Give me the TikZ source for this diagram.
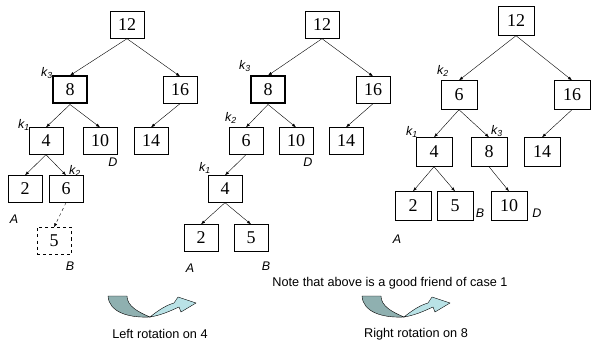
\documentclass[tikz,border=0pt]{standalone}
\usepackage{fontspec}
\setmainfont{Liberation Serif}
\setsansfont{Liberation Sans}
\usetikzlibrary{arrows.meta}
\definecolor{arrdark}{HTML}{8FB0B0}
\definecolor{arrlight}{HTML}{B9E2E6}
\tikzset{
  bx/.style={draw, minimum width=34pt, minimum height=27pt, inner sep=0pt, font=\fontsize{18}{18}\selectfont},
  bxl/.style={bx, minimum width=36pt, minimum height=29pt},
  thickbx/.style={bx, line width=2pt},
  lbl/.style={font=\sffamily\itshape\fontsize{12.5}{12.5}\selectfont, inner sep=0pt},
  txt/.style={font=\sffamily\fontsize{12.7}{13}\selectfont, inner sep=0pt},
  edge/.style={draw, line width=0.4pt, -{Latex[length=4pt,width=3pt]}},
}
\newcommand{\kk}[1]{k\textsubscript{#1}}
\newcommand{\curvarrow}[1]{%
  \begin{scope}[shift={(#1,0)}]
    \fill[arrdark, draw=black, line width=0.4pt] (108,296) .. controls (109,312) and (128,318) .. (150,317)
      .. controls (138,312) and (127,306) .. (127,296) -- cycle;
    \fill[arrlight, draw=black, line width=0.4pt] (150,317) .. controls (160,309) and (167,305) .. (174,303)
      -- (178,297) -- (196,303) -- (181,312) -- (179,307)
      .. controls (170,311) and (162,315) .. (150,317) -- cycle;
  \end{scope}}
\begin{document}
\begin{tikzpicture}[x=1pt,y=-1pt]
\useasboundingbox (0,0) rectangle (613,358);
% Tree 1
\node[bx] (a12) at (127,25) {12};
\node[thickbx] (a8) at (70,90) {8};
\node[bx] (a16) at (180,90) {16};
\node[bx] (a4) at (46,141) {4};
\node[bx] (a10) at (100,141) {10};
\node[bx] (a14) at (151,141) {14};
\node[bx] (a2) at (25,189) {2};
\node[bx] (a6) at (66,189) {6};
\node[bx, dashed] (a5) at (54,241) {5};
\foreach \p/\c in {a12/a8,a12/a16,a8/a4,a8/a10,a16/a14,a4/a2,a4/a6}
  \path[edge] (\p.south) -- (\c.north);
\path[edge, dashed] (a6.south) -- (a5.north);
\node[lbl] (ak3) at (47,73) {\kk{3}};
\node[lbl] (ak1) at (24,125) {\kk{1}};
\node[lbl] (ak2) at (75,171) {\kk{2}};
\node[lbl] (aD) at (113,162) {D};
\node[lbl] (aA) at (14,219) {A};
\node[lbl] (aB) at (70,266) {B};
% Tree 2
\node[bx] (b12) at (322,25) {12};
\node[thickbx] (b8) at (268,90) {8};
\node[bx] (b16) at (373,90) {16};
\node[bx] (b6) at (246,141) {6};
\node[bx] (b10) at (296,141) {10};
\node[bx] (b14) at (346,141) {14};
\node[bx] (b4) at (225,189) {4};
\node[bx] (b2) at (201,238) {2};
\node[bx] (b5) at (251,238) {5};
\foreach \p/\c in {b12/b8,b12/b16,b8/b6,b8/b10,b16/b14,b6/b4,b4/b2,b4/b5}
  \path[edge] (\p.south) -- (\c.north);
\node[lbl] (bk3) at (245,66) {\kk{3}};
\node[lbl] (bk2) at (231,118) {\kk{2}};
\node[lbl] (bk1) at (205,168) {\kk{1}};
\node[lbl] (bD) at (308,162) {D};
\node[lbl] (bA) at (190,268) {A};
\node[lbl] (bB) at (266,266) {B};
% Tree 3
\node[bxl] (c12) at (516,21) {12};
\node[bxl] (c6) at (459,95) {6};
\node[bxl] (c16) at (572,95) {16};
\node[bxl] (c4) at (434,152) {4};
\node[bxl] (c8) at (489,152) {8};
\node[bxl] (c14) at (542,152) {14};
\node[bxl] (c2) at (413,206) {2};
\node[bxl] (c5) at (455,206) {5};
\node[bxl] (c10) at (509,206) {10};
\foreach \p/\c in {c12/c6,c12/c16,c6/c4,c6/c8,c16/c14,c4/c2,c4/c5,c8/c10}
  \path[edge] (\p.south) -- (\c.north);
\node[lbl] (ck2) at (443,71) {\kk{2}};
\node[lbl] (ck1) at (412,132) {\kk{1}};
\node[lbl] (ck3) at (497,131) {\kk{3}};
\node[lbl] (cB) at (480,213) {B};
\node[lbl] (cD) at (537,213) {D};
\node[lbl] (cA) at (397,239) {A};
% Texts
\node[txt] (note) at (390,283) {Note that above is a good friend of case 1};
\node[txt] (lrot) at (160,334) {Left rotation on 4};
\node[txt] (rrot) at (416,334) {Right rotation on 8};
% Curved arrows
\curvarrow{0}
\curvarrow{254}
\end{tikzpicture}
\end{document}
